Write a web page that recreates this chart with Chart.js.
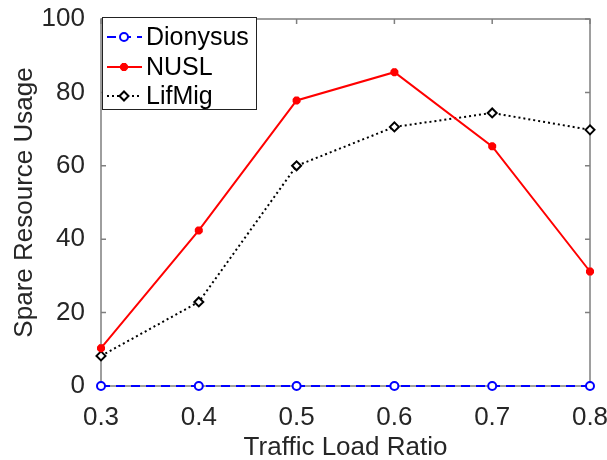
<!DOCTYPE html>
<html>
<head>
<meta charset="utf-8">
<script src="https://cdn.jsdelivr.net/npm/chart.js@4"></script>
<style>
html,body{margin:0;padding:0;background:#fff;}
#wrap{width:607px;height:460px;}
</style>
</head>
<body>
<div id="wrap"><canvas id="c" width="607" height="460"></canvas></div>
<script>
// data
const loadRatio = [0.3, 0.4, 0.5, 0.6, 0.7, 0.8];
const dionysus = [0, 0, 0, 0, 0, 0];
const nusl = [10.3, 42.4, 77.8, 85.5, 65.3, 31.2];
const lifmig = [8.2, 22.9, 60.0, 70.6, 74.4, 69.8];
const xTicks = [0.3, 0.4, 0.5, 0.6, 0.7, 0.8];
const yTicks = [0, 20, 40, 60, 80, 100];

const FONT = "'Liberation Sans', Arial, Helvetica, sans-serif";
const AXIS = "#7f7f7f";

function pts(xs, ys){
  return xs.map((x,i)=>({x:x, y:ys[i]}));
}

// box + inward ticks under the lines, legend on top
const matlabLook = {
  id:'matlabLook',
  beforeDatasetsDraw(chart){
    const ctx = chart.ctx, a = chart.chartArea;
    const xs = chart.scales.x, ys = chart.scales.y;
    ctx.save();
    ctx.strokeStyle = AXIS;
    ctx.lineWidth = 1.5;
    ctx.beginPath();
    xTicks.forEach(t=>{
      const px = xs.getPixelForValue(t);
      ctx.moveTo(px, a.bottom); ctx.lineTo(px, a.bottom-5);
      ctx.moveTo(px, a.top); ctx.lineTo(px, a.top+5);
    });
    yTicks.forEach(t=>{
      const py = ys.getPixelForValue(t);
      ctx.moveTo(a.left, py); ctx.lineTo(a.left+5, py);
      ctx.moveTo(a.right, py); ctx.lineTo(a.right-5, py);
    });
    ctx.stroke();
    ctx.strokeRect(a.left, a.top, a.right-a.left, a.bottom-a.top);
    ctx.restore();
  },
  afterDatasetsDraw(chart){
    const ctx = chart.ctx, a = chart.chartArea;
    ctx.save();
    const lx = a.left+1, ly = a.top-2, lw = 154, lh = 92;
    ctx.fillStyle = '#fff';
    ctx.fillRect(lx, ly, lw, lh);
    ctx.strokeStyle = '#222';
    ctx.lineWidth = 1;
    ctx.strokeRect(lx+0.5, ly+0.5, lw, lh);
    const rows = [20, 50, 79];
    chart.data.datasets.forEach((ds,i)=>{
      const cy = ly + rows[i];
      ctx.strokeStyle = ds.borderColor;
      ctx.lineWidth = ds.borderWidth;
      ctx.setLineDash(ds.borderDash || []);
      ctx.beginPath();
      ctx.moveTo(lx+5, cy); ctx.lineTo(lx+40, cy);
      ctx.stroke();
      ctx.setLineDash([]);
      ctx.fillStyle = ds.pointBackgroundColor;
      ctx.strokeStyle = ds.pointBorderColor;
      ctx.lineWidth = ds.pointBorderWidth;
      Chart.helpers.drawPoint(ctx, {
        pointStyle: ds.pointStyle, radius: ds.pointRadius, borderWidth: ds.pointBorderWidth, rotation: 0
      }, lx+22, cy);
      ctx.fillStyle = '#000';
      ctx.font = "25px " + FONT;
      ctx.textBaseline = 'middle';
      ctx.textAlign = 'left';
      ctx.fillText(ds.label, lx+44, cy+1);
    });
    ctx.restore();
  }
};

new Chart(document.getElementById('c'), {
  type:'line',
  data:{
    datasets:[
      {
        label:'Dionysus',
        data: pts(loadRatio, dionysus),
        borderColor:'#0000ff',
        borderWidth:2,
        borderDash:[9,6],
        pointStyle:'circle',
        pointRadius:4,
        pointBorderWidth:2,
        pointBorderColor:'#0000ff',
        pointBackgroundColor:'#fff',
        clip:false
      },
      {
        label:'NUSL',
        data: pts(loadRatio, nusl),
        borderColor:'#ff0000',
        borderWidth:2,
        pointStyle:'star',
        pointRadius:4,
        pointBorderWidth:3,
        pointBorderColor:'#ff0000',
        pointBackgroundColor:'#ff0000',
        clip:false
      },
      {
        label:'LifMig',
        data: pts(loadRatio, lifmig),
        borderColor:'#000000',
        borderWidth:2,
        borderDash:[2,3],
        pointStyle:'rectRot',
        pointRadius:4.5,
        pointBorderWidth:2,
        pointBorderColor:'#000000',
        pointBackgroundColor:'#fff',
        clip:false
      }
    ]
  },
  options:{
    responsive:false,
    animation:false,
    devicePixelRatio:1,
    layout:{padding:{left:0, top:19, right:17, bottom:0}},
    plugins:{legend:{display:false}, tooltip:{enabled:false}},
    elements:{line:{tension:0}},
    scales:{
      x:{
        type:'linear',
        min:0.3, max:0.8,
        afterBuildTicks(s){ s.ticks = xTicks.map(v=>({value:v})); },
        afterFit(s){ s.height = 74; s.paddingLeft = 0; s.paddingRight = 0; },
        border:{display:false},
        grid:{display:false},
        ticks:{
          color:'#262626',
          font:{family:FONT, size:26},
          padding:8,
          callback:v=>v.toFixed(1)
        },
        title:{
          display:true, text:'Traffic Load Ratio',
          color:'#262626',
          font:{family:FONT, size:26, lineHeight:0.9},
          padding:{top:0, bottom:0}
        }
      },
      y:{
        min:0, max:100,
        afterBuildTicks(s){ s.ticks = yTicks.map(v=>({value:v})); },
        afterFit(s){ s.width = 101; s.paddingTop = 0; s.paddingBottom = 0; },
        border:{display:false},
        grid:{display:false},
        ticks:{
          color:'#262626',
          font:{family:FONT, size:26},
          padding:8
        },
        title:{
          display:true, text:'Spare Resource Usage',
          color:'#262626',
          font:{family:FONT, size:26},
          padding:{top:9, bottom:0}
        }
      }
    }
  },
  plugins:[matlabLook]
});
</script>
</body>
</html>
